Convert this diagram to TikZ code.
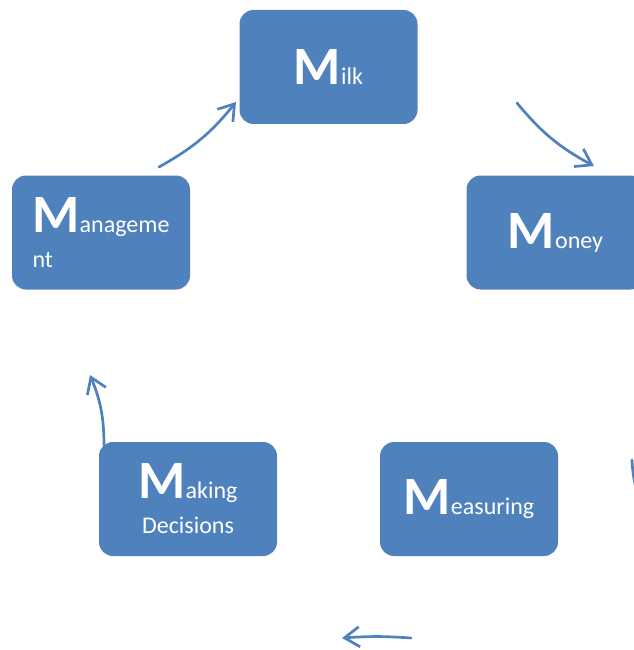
\documentclass[tikz,border=0pt]{standalone}
\usepackage{fontspec}
\setmainfont{Carlito}
\usetikzlibrary{arrows.meta}
\definecolor{boxblue}{HTML}{4F81BD}
\newcommand\BigLetterM{{\fontsize{54}{54}\selectfont\bfseries M}}
\begin{document}
\begin{tikzpicture}[x=1pt,y=-1pt,
  box/.style={fill=boxblue, rounded corners=14pt, minimum width=178pt, minimum height=114pt,
    text=white, inner sep=0pt, font=\fontsize{24}{35}\selectfont},
  cyc/.style={draw=boxblue, line width=2.7pt, line cap=round,
    -{Straight Barb[length=15pt,width=20pt]}},
  stub/.style={draw=boxblue, line width=2.7pt, line cap=round}
]
\useasboundingbox (0,0) rectangle (633,650);
% boxes
\node[box] (milk) at (328.5,67) {\BigLetterM ilk};
\node[box] (money) at (555.5,232.5) {\BigLetterM oney};
\node[box, align=center] (meas) at (469,499) {\BigLetterM easuring};
\node[box, align=center] (mak) at (188,499) {\BigLetterM aking\\Decisions};
\node[box, align=left] (mgmt) at (101,232.5) {\BigLetterM anageme\\nt};
% arrow end points
\coordinate (a1s) at (159,167);
\coordinate (a1e) at (236,102);
\coordinate (a2s) at (517,103);
\coordinate (a2e) at (594,166);
\coordinate (a3s) at (632,460);
\coordinate (a3e) at (680,600);
\coordinate (a4s) at (411,638);
\coordinate (a4e) at (342,638);
\coordinate (a5s) at (104,445);
\coordinate (a5e) at (90,375);
% arrows
\draw[cyc] (a1s) to[bend right=11] (a1e);
\draw[cyc] (a2s) to[bend right=11] (a2e);
\draw[stub] (a3s) .. controls (633,500) and (660,560) .. (a3e);
\draw[cyc] (a4s) to[bend right=4] (a4e);
\draw[cyc] (a5s) to[bend right=11] (a5e);
\end{tikzpicture}
\end{document}
